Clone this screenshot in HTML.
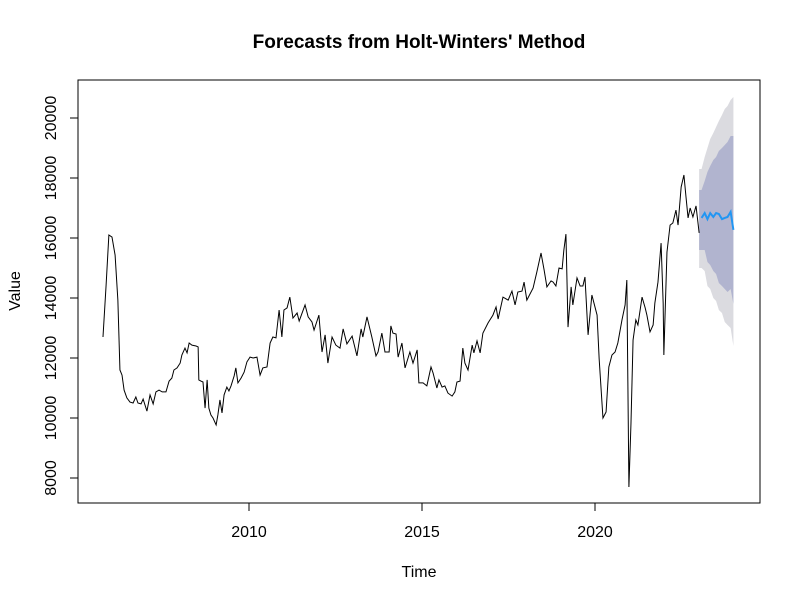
<!DOCTYPE html>
<html><head><meta charset="utf-8"><style>
body{margin:0;background:#fff}
svg text{font-family:"Liberation Sans",Arial,sans-serif;fill:#000}
</style></head><body>
<svg id="chart" width="800" height="600" xmlns="http://www.w3.org/2000/svg">
<rect width="800" height="600" fill="#fff"/>
<text x="419" y="48" font-size="19" font-weight="bold" text-anchor="middle">Forecasts from Holt-Winters' Method</text>
<text x="419" y="577" font-size="16" text-anchor="middle">Time</text>
<text transform="translate(20,291) rotate(-90)" font-size="16" text-anchor="middle">Value</text>
<g id="bands"></g>
<g id="series"></g>
<g id="axes"></g>
<rect x="78" y="80" width="682" height="423" fill="none" stroke="#000" stroke-width="1"/>
</svg>
<script>
const times=[2005.78,2005.87,2005.95,2006.04,2006.13,2006.21,2006.27,2006.33,2006.39,2006.47,2006.56,2006.65,2006.73,2006.79,2006.88,2006.94,2007.05,2007.14,2007.23,2007.31,2007.40,2007.49,2007.60,2007.69,2007.77,2007.83,2007.92,2008.01,2008.06,2008.15,2008.21,2008.27,2008.35,2008.47,2008.53,2008.55,2008.61,2008.67,2008.73,2008.79,2008.84,2008.90,2008.96,2009.05,2009.10,2009.16,2009.22,2009.28,2009.36,2009.42,2009.48,2009.57,2009.62,2009.68,2009.77,2009.86,2009.94,2010.03,2010.12,2010.23,2010.32,2010.40,2010.52,2010.61,2010.69,2010.78,2010.87,2010.95,2011.01,2011.10,2011.18,2011.27,2011.39,2011.45,2011.62,2011.71,2011.82,2011.88,2012.02,2012.11,2012.20,2012.28,2012.40,2012.51,2012.63,2012.72,2012.83,2012.98,2013.12,2013.24,2013.29,2013.41,2013.55,2013.67,2013.73,2013.84,2013.93,2014.05,2014.10,2014.16,2014.25,2014.31,2014.42,2014.51,2014.65,2014.74,2014.86,2014.91,2015.03,2015.14,2015.26,2015.32,2015.43,2015.49,2015.58,2015.66,2015.75,2015.87,2015.95,2016.01,2016.10,2016.18,2016.24,2016.33,2016.45,2016.50,2016.59,2016.68,2016.76,2016.91,2017.05,2017.14,2017.20,2017.34,2017.49,2017.60,2017.69,2017.77,2017.89,2017.95,2018.03,2018.21,2018.32,2018.44,2018.53,2018.61,2018.73,2018.79,2018.87,2018.96,2019.05,2019.10,2019.16,2019.19,2019.22,2019.31,2019.36,2019.48,2019.57,2019.65,2019.71,2019.80,2019.91,2020.06,2020.12,2020.23,2020.32,2020.40,2020.49,2020.58,2020.66,2020.78,2020.87,2020.92,2020.95,2020.98,2021.04,2021.10,2021.18,2021.24,2021.36,2021.45,2021.50,2021.59,2021.68,2021.73,2021.82,2021.91,2021.97,2021.99,2022.08,2022.17,2022.25,2022.34,2022.40,2022.49,2022.57,2022.63,2022.69,2022.75,2022.83,2022.92,2023.01];
const values=[12700,14430,16100,16030,15430,13930,11600,11430,10930,10670,10530,10500,10700,10500,10470,10630,10230,10770,10470,10870,10930,10870,10870,11230,11330,11600,11670,11830,12100,12330,12170,12500,12430,12400,12370,11270,11230,11200,10330,11270,10330,10100,10000,9770,10100,10600,10170,10770,11030,10900,11070,11400,11670,11170,11330,11530,11870,12030,12000,12030,11430,11670,11700,12500,12700,12670,13600,12700,13600,13670,14030,13330,13500,13230,13770,13370,13200,12930,13430,12200,12770,11830,12700,12430,12330,12970,12470,12730,12070,12970,12700,13370,12700,12070,12200,12830,12200,12200,13070,12830,12800,12030,12500,11670,12200,11830,12270,11170,11170,11070,11700,11500,11000,11270,11030,11070,10830,10730,10870,11200,11230,12330,11830,11600,12430,12170,12570,12170,12830,13170,13430,13700,13300,14030,13930,14230,13770,14200,14230,14530,13930,14330,14870,15500,14930,14370,14570,14530,14400,15000,14970,15600,16130,14600,13030,14370,13770,14670,14400,14400,14700,12770,14100,13430,11970,10000,10200,11700,12100,12200,12500,13270,13770,14600,11170,7700,9830,12600,13270,13100,14030,13670,13430,12870,13100,13830,14530,15830,13830,12100,15530,16430,16500,16930,16430,17700,18100,17370,16670,17000,16700,17070,16170];
const fcTimes=[2023.08,2023.17,2023.25,2023.33,2023.42,2023.5,2023.58,2023.67,2023.75,2023.83,2023.92,2024.0];
const fcMean=[16670,16830,16630,16830,16700,16830,16800,16630,16670,16700,16870,16270];
const upper95=[18300,18700,19000,19300,19500,19700,19900,20100,20300,20400,20600,20700];
const lower95=[15000,14900,14400,14300,14000,13900,13600,13500,13200,13100,13000,12400];
const upper80=[17600,17900,18200,18400,18600,18700,18900,19000,19100,19200,19400,19400];
const lower80=[15600,15600,15200,15100,14900,14800,14500,14400,14300,14200,14300,13800];
const xTicks=[2010,2015,2020];
const yTicks=[8000,10000,12000,14000,16000,18000,20000];

const NS='http://www.w3.org/2000/svg';
const xs=t=>249+(t-2010)*34.6;
const ys=v=>478-(v-8000)*0.03;
function mk(tag,attrs,parent){const e=document.createElementNS(NS,tag);for(const k in attrs)e.setAttribute(k,attrs[k]);parent.appendChild(e);return e;}
const bands=document.getElementById('bands'),series=document.getElementById('series'),axes=document.getElementById('axes');
function band(up,lo,col){
  const t0=times[times.length-1];
  let pts=[[xs(t0),ys(up[0])]];
  fcTimes.forEach((t,i)=>pts.push([xs(t),ys(up[i])]));
  for(let i=fcTimes.length-1;i>=0;i--)pts.push([xs(fcTimes[i]),ys(lo[i])]);
  pts.push([xs(t0),ys(lo[0])]);
  return mk('polygon',{points:pts.map(p=>p.join(',')).join(' '),fill:col},bands);
}
const b95=band(upper95,lower95,'#dbdbe0');


const b80=band(upper80,lower80,'#b1b4cf');


const obs=mk('polyline',{points:times.map((t,i)=>xs(t)+','+ys(values[i])).join(' '),fill:'none',stroke:'#000','stroke-width':1},series);


const fc=mk('polyline',{points:fcTimes.map((t,i)=>xs(t)+','+ys(fcMean[i])).join(' '),fill:'none',stroke:'#2196f3','stroke-width':2},series);


const xl=mk('line',{x1:xs(xTicks[0]),x2:xs(xTicks[xTicks.length-1]),y1:503,y2:503,stroke:'#000'},axes);


xTicks.forEach(t=>{
  const tk=mk('line',{x1:xs(t),x2:xs(t),y1:503,y2:511,stroke:'#000'},axes);
  
  
  const lb=mk('text',{x:xs(t),y:537,'font-size':16,'text-anchor':'middle'},axes);
  lb.textContent=t;
  
  
});
const yl=mk('line',{x1:78,x2:78,y1:ys(yTicks[0]),y2:ys(yTicks[yTicks.length-1]),stroke:'#000'},axes);


yTicks.forEach(v=>{
  const tk=mk('line',{x1:70,x2:78,y1:ys(v),y2:ys(v),stroke:'#000'},axes);
  
  
  const lb=mk('text',{transform:`translate(56,${ys(v)}) rotate(-90)`,'font-size':16,'text-anchor':'middle'},axes);
  lb.textContent=v;
  
  
});
</script>
</body></html>
